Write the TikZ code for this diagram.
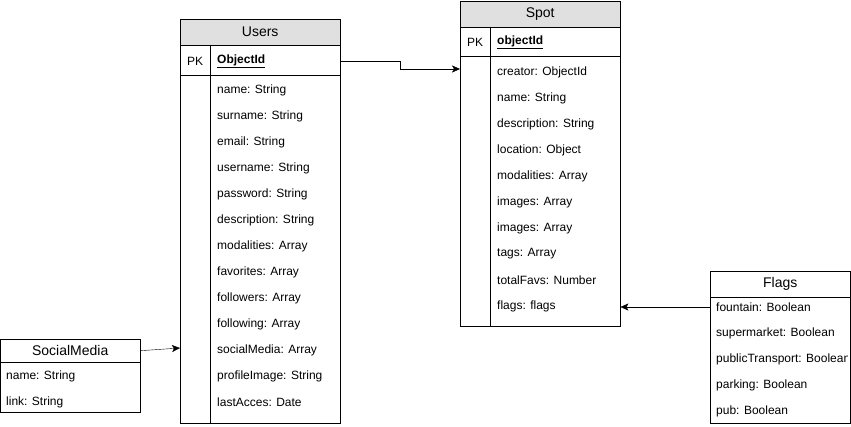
\documentclass[tikz,border=0pt]{standalone}
\usepackage{fontspec}
\setmainfont{Liberation Sans}
\usetikzlibrary{positioning,arrows.meta}
\definecolor{headgray}{RGB}{224,224,224}
\tikzset{
  tablebox/.style={draw, inner sep=0pt, anchor=north west},
  headbox/.style={draw, inner sep=0pt, anchor=north west, minimum height=26, font=\fontsize{14}{16}\selectfont},
  field/.style={anchor=west, inner sep=0pt, font=\fontsize{12}{14}\selectfont},
  keyfield/.style={field, font=\fontsize{12}{14}\selectfont\bfseries},
  link/.style={-{Stealth[length=8pt,width=7pt,inset=2pt]}},
}
\begin{document}
\begin{tikzpicture}[x=1pt,y=-1pt]
          \useasboundingbox (0,0) rectangle (851,427);

          % Users table
          \node[tablebox, minimum width=160, minimum height=404] (users) at (180,19) {};
          \node[headbox, fill=headgray, minimum width=160] (usershead) at (180,19) {Users};
          \draw (180,75) -- (340,75);
          \draw (210,45) -- (210,423);
          \node[field] (userspk) at (187,61) {PK};
          \node[keyfield] (usersid) at (217,61) {\underline{ObjectId}};
          \foreach \f [count=\i] in {name: String, surname: String, email: String,
              username: String, password: String, description: String,
              modalities: Array, favorites: Array, followers: Array,
              following: Array, socialMedia: Array, profileImage: String,
              lastAcces: Date}
            \node[field] (users\i) at (217,64+26*\i) {\f};

          % Spot table
          \node[tablebox, minimum width=160, minimum height=325] (spot) at (460,1) {};
          \node[headbox, fill=headgray, minimum width=160] (spothead) at (460,1) {Spot};
          \draw (460,56) -- (620,56);
          \draw (490,27) -- (490,326);
          \node[field] (spotpk) at (467,42) {PK};
          \node[keyfield] (spotid) at (497,42) {\underline{objectId}};
          \foreach \f [count=\i] in {creator: ObjectId, name: String,
              description: String, location: Object, modalities: Array,
              images: Array, images: Array, tags: Array,
              totalFavs: Number, flags: flags}
            \node[field] (spot\i) at (497,46+26*\i) {\f};

          % Flags table
          \node[tablebox, minimum width=140, minimum height=152] (flags) at (710,271) {};
          \node[headbox, minimum width=140] (flagshead) at (710,271) {Flags};
          \begin{scope}
            \clip (710,271) rectangle (847,423);
            \foreach \f [count=\i] in {fountain: Boolean, supermarket: Boolean,
                publicTransport: Boolean, parking: Boolean, pub: Boolean}
              \node[field] (flags\i) at (716,281+26*\i) {\f};
          \end{scope}

          % SocialMedia table
          \node[tablebox, minimum width=140, minimum height=73] (social) at (0,339) {};
          \node[headbox, minimum width=140, minimum height=23] (socialhead) at (0,339) {SocialMedia};
          \node[field] (social1) at (6,376) {name: String};
          \node[field] (social2) at (6,402) {link: String};

          % connectors
          \coordinate (spotin) at (460,69);
          \coordinate (usersin) at (180,348);
          \draw[link] (users.east |- usersid) -- (400,61) |- (spotin);
          \draw[link] (socialhead.east) -- (usersin);
          \draw[link] (flags.west |- flags1) -- (spot.east |- flags1);
        \end{tikzpicture}
\end{document}
